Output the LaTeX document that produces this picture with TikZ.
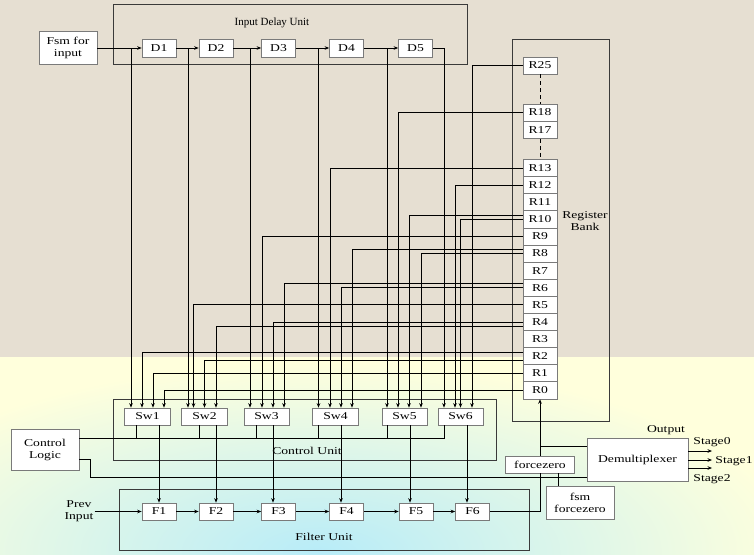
\documentclass[tikz,border=0pt]{standalone}
\usepackage{fontspec}
\setmainfont[FakeStretch=1.3]{Liberation Serif}
\newfontfamily\plainserif{Liberation Serif}
\usetikzlibrary{arrows.meta}
\definecolor{bgtop}{HTML}{E6DFD2}
\definecolor{bgbot}{HTML}{FFFFDC}
\definecolor{bgcyan}{HTML}{B8ECF8}
\definecolor{boxline}{HTML}{7A7A7A}
\definecolor{unitline}{HTML}{3A3A3A}
\begin{document}
\begin{tikzpicture}[x=1pt,y=-1pt,
  font=\fontsize{10.5}{12}\selectfont,
  dbox/.style={draw=boxline, fill=white, line width=0.7pt, inner sep=0pt, minimum width=34pt, minimum height=18pt},
  rbox/.style={dbox, minimum height=17.1pt},
  swbox/.style={dbox, minimum width=46pt, minimum height=17pt},
  fbox/.style={dbox, minimum height=17pt},
  unit/.style={draw=unitline, line width=0.9pt},
  wire/.style={line width=0.75pt, black},
  arr/.style={wire, -{Stealth[length=4.5pt,width=3.6pt]}},
  lbl/.style={inner sep=1pt, align=center}]
\useasboundingbox (0,0) rectangle (754,554);
% background
\fill[bgtop] (0,0) rectangle (754,357);
\fill[bgbot] (0,357) rectangle (754,554);
\begin{scope}
  \clip (0,357) rectangle (754,554);
  \shade[inner color=bgcyan, outer color=bgbot] (320,552) ellipse [x radius=480pt, y radius=190pt];
\end{scope}

% unit boxes
\draw[unit] (113,4) rectangle (467,64);
\draw[unit] (512,39) rectangle (609,421);
\draw[unit] (113,399) rectangle (496,460);
\draw[unit] (119,489) rectangle (529,550);
\node[lbl] (idu) at (272,23) {\plainserif\fontsize{11}{13}\selectfont Input Delay Unit};
\node[lbl] (rbl) at (585,221) {Register\\Bank};
\node[lbl] (cul) at (307,451) {Control Unit};
\node[lbl] (ful) at (324,537) {Filter Unit};

% input delay
\node[dbox, minimum width=58pt, minimum height=33pt, align=center] (fsm) at (68,48) {Fsm for\\input};
\node[dbox] (d1) at (159,48) {D1};
\node[dbox] (d2) at (216,48) {D2};
\node[dbox] (d3) at (278.5,48) {D3};
\node[dbox] (d4) at (346.5,48) {D4};
\node[dbox] (d5) at (415.5,48) {D5};

% registers
\node[rbox] (r25) at (540,65.5) {R25};
\node[rbox] (r18) at (540,112.5) {R18};
\node[rbox] (r17) at (540,129.6) {R17};
\foreach \i in {13,12,...,0} {
  \node[rbox] (r\i) at (540,{168.05+(13-\i)*17.1}) {R\i};
}
\draw[wire, dash pattern=on 4pt off 3pt] (r25.south) -- (r18.north);
\draw[wire, dash pattern=on 4pt off 3pt] (r17.south) -- (r13.north);

% switches
\node[swbox] (sw1) at (147.5,416.5) {Sw1};
\node[swbox] (sw2) at (204.5,416.5) {Sw2};
\node[swbox, minimum width=45pt] (sw3) at (266.5,416.5) {Sw3};
\node[swbox] (sw4) at (335.5,416.5) {Sw4};
\node[swbox, minimum width=45pt] (sw5) at (404.5,416.5) {Sw5};
\node[swbox, minimum width=45pt] (sw6) at (460.5,416.5) {Sw6};

% filters
\node[fbox] (f1) at (159,511.5) {F1};
\node[fbox] (f2) at (216,511.5) {F2};
\node[fbox] (f3) at (278.5,511.5) {F3};
\node[fbox] (f4) at (346.5,511.5) {F4};
\node[fbox] (f5) at (416,511.5) {F5};
\node[fbox] (f6) at (472.5,511.5) {F6};
\node[lbl] (prev) at (79,511.5) {Prev\\Input};

% other blocks
\node[dbox, minimum width=68pt, minimum height=41pt, align=center] (cl) at (45,449.5) {Control\\Logic};
\node[dbox, minimum width=69pt, minimum height=17pt] (fz) at (540,464.5) {forcezero};
\node[dbox, minimum width=68pt, minimum height=33pt, align=center] (ffz) at (580,502.5) {fsm\\forcezero};
\node[dbox, minimum width=101pt, minimum height=43pt] (dm) at (637.5,459.5) {Demultiplexer};
\node[lbl] (outl) at (666,430) {Output};
\coordinate (st0) at (712,451);
\coordinate (st1) at (712,460);
\coordinate (st2) at (712,468);
\node[lbl] (l0) at (712,442) {Stage0};
\node[lbl] (l1) at (734,461) {Stage1};
\node[lbl] (l2) at (712,479) {Stage2};

% delay chain
\draw[arr] (fsm) -- (d1);
\draw[arr] (d1) -- (d2);
\draw[arr] (d2) -- (d3);
\draw[arr] (d3) -- (d4);
\draw[arr] (d4) -- (d5);
\draw[arr] (fsm.east -| 131,0) -- (sw1.north -| 131,0);
\draw[arr] (d1.east -| 188,0) -- (sw2.north -| 188,0);
\draw[arr] (d2.east -| 250,0) -- (sw3.north -| 250,0);
\draw[arr] (d3.east -| 318.5,0) -- (sw4.north -| 318.5,0);
\draw[arr] (d4.east -| 387,0) -- (sw5.north -| 387,0);
\draw[arr] (d5.east) -| (sw6.north -| 444,0);

% register to switch
\draw[arr] (r25.west) -| (sw6.north -| 472,0);
\draw[arr] (r18.west) -| (sw5.north -| 398,0);
\draw[arr] (r13.west) -| (sw4.north -| 330,0);
\draw[arr] (r12.west) -| (sw6.north -| 455,0);
\draw[arr] ([yshift=4.3pt]r10.west) -| (sw5.north -| 409,0);
\draw[arr] (r10.west) -| (sw6.north -| 460.5,0);
\draw[arr] (r9.west) -| (sw3.north -| 262,0);
\draw[arr] ([yshift=4.5pt]r8.west) -| (sw4.north -| 352,0);
\draw[arr] (r8.west) -| (sw5.north -| 421,0);
\draw[arr] ([yshift=4.5pt]r6.west) -| (sw3.north -| 284,0);
\draw[arr] (r6.west) -| (sw4.north -| 341,0);
\draw[arr] (r5.west) -| (sw2.north -| 193.5,0);
\draw[arr] (r4.west) -| (sw3.north -| 273,0);
\draw[arr] ([yshift=-4.5pt]r4.west) -| (sw2.north -| 216,0);
\draw[arr] ([yshift=4pt]r2.west) -| (sw1.north -| 142,0);
\draw[arr] ([yshift=-4.5pt]r2.west) -| (sw2.north -| 204.5,0);
\draw[arr] (r1.west) -| (sw1.north -| 153,0);
\draw[arr] (r0.west) -| (sw1.north -| 164,0);

% control bus
\coordinate (busend) at (444,438);
\draw[wire] (cl.east |- busend) -- (busend) -- (sw6.south -| busend);
\draw[wire] (sw1.south -| 136,0) |- (busend);
\draw[wire] (sw2.south -| 199,0) |- (busend);
\draw[wire] (sw3.south -| 256,0) |- (busend);
\draw[wire] (sw4.south -| 318,0) |- (busend);
\draw[wire] (sw5.south -| 387,0) |- (busend);

% switch to filter
\draw[arr] (sw1.south -| 159,0) -- (f1.north -| 159,0);
\draw[arr] (sw2.south -| 216,0) -- (f2.north -| 216,0);
\draw[arr] (sw3.south -| 273,0) -- (f3.north -| 273,0);
\draw[arr] (sw4.south -| 341,0) -- (f4.north -| 341,0);
\draw[arr] (sw5.south -| 410,0) -- (f5.north -| 410,0);
\draw[arr] (sw6.south -| 467,0) -- (f6.north -| 467,0);

% filter chain
\draw[arr] (prev) -- (f1);
\draw[arr] (f1) -- (f2);
\draw[arr] (f2) -- (f3);
\draw[arr] (f3) -- (f4);
\draw[arr] (f4) -- (f5);
\draw[arr] (f5) -- (f6);
\draw[wire] (f6.east) -| (fz.south);
\draw[arr] (fz.north) -- (r0.south);
\draw[wire] (fz.north |- 0,446) -- (dm.west |- 0,446);
\draw[wire] (ffz.north -| 558,0) -- (fz.south -| 558,0);
\draw[wire] (cl.east |- 0,459) -- (90,459) |- (dm.west |- 0,477);

% outputs
\draw[arr] (dm.east |- st0) -- (st0);
\draw[arr] (dm.east |- st1) -- (st1);
\draw[arr] (dm.east |- st2) -- (st2);
\end{tikzpicture}
\end{document}
